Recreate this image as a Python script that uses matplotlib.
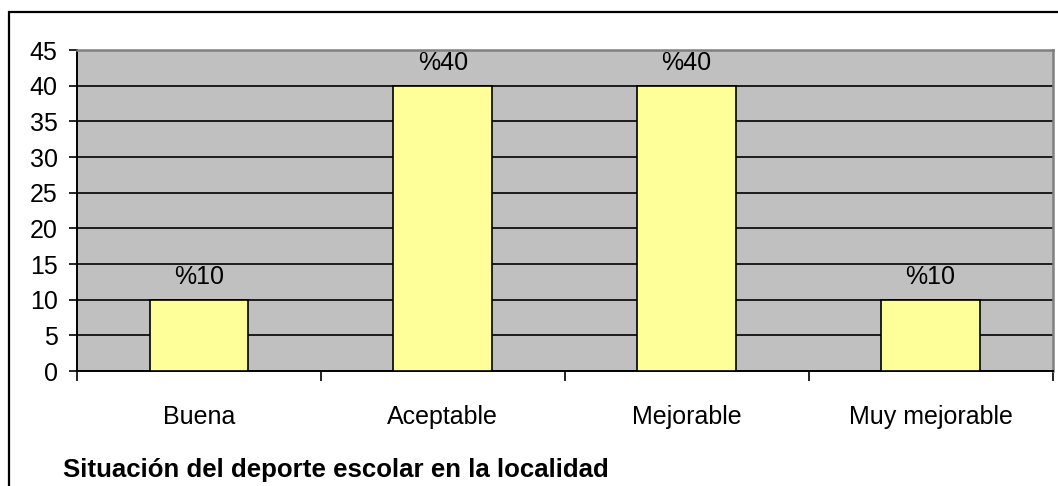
import matplotlib.pyplot as plt
from matplotlib.patches import Rectangle

# Datos del gráfico
categorias = ['Buena', 'Aceptable', 'Mejorable', 'Muy mejorable']
valores = [10, 40, 40, 10]
etiquetas = ['%10', '%40', '%40', '%10']
y_ticks = list(range(0, 50, 5))

plt.rcParams['font.family'] = ['Liberation Sans', 'DejaVu Sans']
fs = 18

fig = plt.figure(figsize=(10.58, 4.86), dpi=100)
ax = fig.add_axes([77 / 1058, 1 - 371 / 486, (1052.5 - 77) / 1058, (371 - 50) / 486])

# Marco exterior del gráfico
fig.patches.append(Rectangle((9 / 1058, -0.1), 1.2, 1 - 12 / 486 + 0.1, transform=fig.transFigure,
                             fill=False, edgecolor='black', linewidth=1.6))

ax.set_facecolor('#C0C0C0')
x = list(range(len(categorias)))
ax.bar(x, valores, width=0.405, color='#FFFF99', edgecolor='black', linewidth=1.2, zorder=3)

for xi, v, lab in zip(x, valores, etiquetas):
    ax.annotate(lab, (xi, v), xytext=(0, 8), textcoords='offset points',
                ha='center', va='bottom', fontsize=fs, zorder=4)

ax.set_ylim(0, 45)
ax.set_xlim(-0.5, 3.5)
ax.set_yticks(y_ticks)
ax.tick_params(axis='y', length=6, width=1.2, labelsize=fs, pad=8, direction='out')
for yv in y_ticks[1:-1]:
    ax.axhline(yv, color='black', linewidth=1.2, zorder=2)

ax.set_xticks(x)
ax.set_xticklabels(categorias)
ax.tick_params(axis='x', which='major', length=0, labelsize=fs, pad=24.5)
ax.set_xticks([-0.5, 0.5, 1.5, 2.5, 3.5], minor=True)
ax.tick_params(axis='x', which='minor', length=7, width=1.2, direction='out')

ax.spines['left'].set_linewidth(1.4)
ax.spines['bottom'].set_linewidth(1.4)
ax.spines['top'].set_color('#808080')
ax.spines['right'].set_color('#808080')
ax.spines['top'].set_linewidth(1.8)
ax.spines['right'].set_linewidth(1.8)

fig.text(63 / 1058, 1 - 477 / 486, 'Situación del deporte escolar en la localidad',
         fontsize=18.6, fontweight='bold', ha='left', va='baseline')

fig.savefig('out.png', dpi=100)
